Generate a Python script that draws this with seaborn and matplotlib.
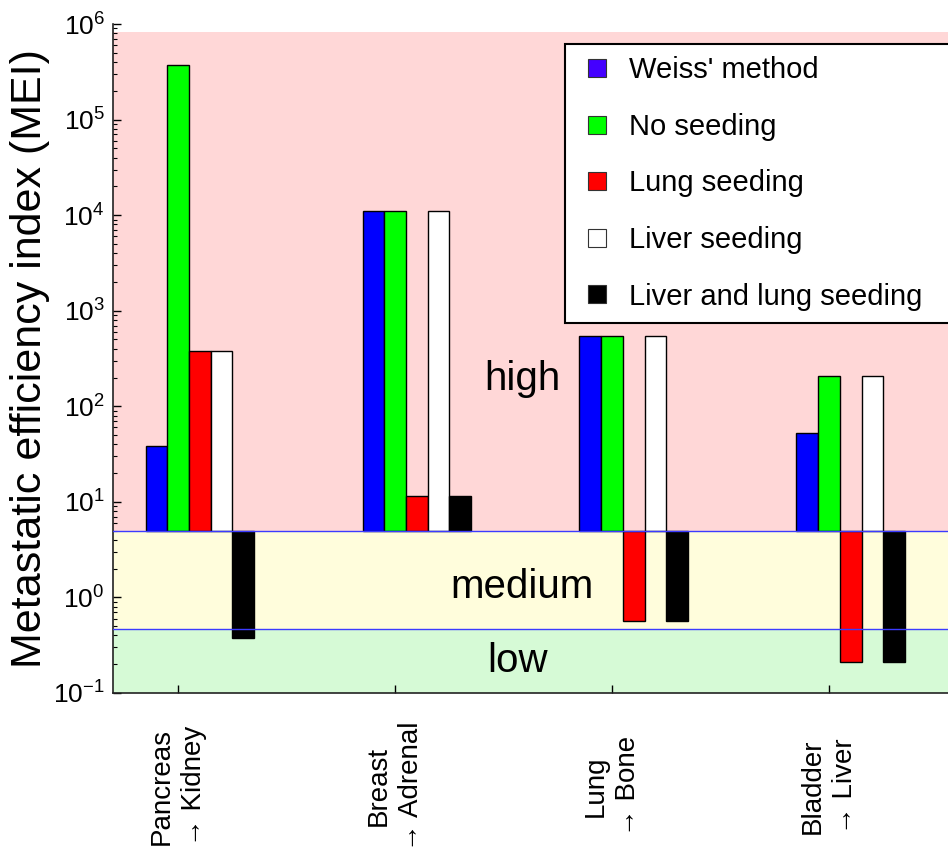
import matplotlib
matplotlib.use("Agg")
import matplotlib.pyplot as plt
from matplotlib.lines import Line2D
import seaborn as sns
import pandas as pd

# ---- data ----
sites = ["Pancreas\n\u2192 Kidney", "Breast\n\u2192 Adrenal", "Lung\n\u2192 Bone", "Bladder\n\u2192 Liver"]
methods = ["Weiss' method", "No seeding", "Lung seeding", "Liver seeding", "Liver and lung seeding"]
weiss = [38, 11000, 550, 53]
no_seeding = [3.7e5, 11000, 550, 207]
lung_seeding = [380, 11.5, 0.57, 0.21]
liver_seeding = [380, 11000, 550, 207]
liver_lung_seeding = [0.38, 11.5, 0.57, 0.21]
series = [weiss, no_seeding, lung_seeding, liver_seeding, liver_lung_seeding]
colors = ["#0000ff", "#00ff00", "#ff0000", "#ffffff", "#000000"]
legend_colors = ["#4400ff", "#00ff00", "#ff0000", "#ffffff", "#000000"]
base = 5.0          # bars start from the high/medium threshold
medium_low = 0.47   # medium/low threshold
band_labels = ["high", "medium", "low"]

rows = []
for m, vals in zip(methods, series):
    for s, v in zip(sites, vals):
        rows.append({"site": s, "method": m, "MEI": v})
df = pd.DataFrame(rows)

sns.set_style("ticks")
plt.rcParams["font.family"] = ["Liberation Sans", "DejaVu Sans"]
plt.rcParams["mathtext.fontset"] = "custom"
plt.rcParams["mathtext.rm"] = "Liberation Sans"
plt.rcParams["mathtext.it"] = "Liberation Sans:italic"
plt.rcParams["mathtext.bf"] = "Liberation Sans:bold"
for k in ["text.color", "axes.labelcolor", "xtick.color", "ytick.color"]:
    plt.rcParams[k] = "black"

W, H = 948, 857
fig = plt.figure(figsize=(W / 100, H / 100), dpi=100)
ax = fig.add_axes([113 / W, (H - 693) / H, (967 - 113) / W, (693 - 24) / H])

sns.barplot(data=df, x="site", y="MEI", hue="method", order=sites, hue_order=methods,
            palette=colors, saturation=1, width=0.5, edgecolor="black", linewidth=1.0,
            errorbar=None, legend=False, ax=ax, zorder=2)

# bars go from the threshold (5) up or down to their value
for cont, vals in zip(ax.containers, series):
    for bar, v in zip(cont, vals):
        bar.set_y(base)
        bar.set_height(v - base)

ax.set_yscale("log")
ax.set_ylim(0.1, 1e6)
ax.set_xlim(-0.4, 3.536)

# background bands
ax.axhspan(base, 8.2e5, color="#ffd7d7", zorder=0, lw=0)
ax.axhspan(medium_low, base, color="#fffddc", zorder=0, lw=0)
ax.axhspan(0.1, medium_low, color="#d6fad6", zorder=0, lw=0)
ax.axhline(base, color="#3b3bff", lw=1.0, zorder=3)
ax.axhline(medium_low, color="#3b3bff", lw=1.0, zorder=3)

ax.text(1.485, 191, band_labels[0], fontsize=29, ha="center", va="center", zorder=4)
ax.text(1.485, 1.28, band_labels[1], fontsize=29, ha="center", va="center", zorder=4)
ax.text(1.465, 0.216, band_labels[2], fontsize=29, ha="center", va="center", zorder=4)

# axes styling
ax.set_xticks([i - 0.1 for i in range(len(sites))])
ax.set_xticklabels(sites, rotation=90, va="center", ha="center",
                   multialignment="center", fontsize=20, linespacing=1.3)
ax.tick_params(axis="x", direction="in", length=6, width=1, pad=67)
ax.tick_params(axis="y", which="major", direction="in", length=6, width=1,
               labelsize=19, pad=6)
ax.tick_params(axis="y", which="minor", direction="in", length=3, width=0.8)
ax.set_xlabel("")
ax.set_ylabel("Metastatic efficiency index (MEI)", fontsize=31)
ax.yaxis.set_label_coords(-0.074, 0.5)
for side in ["top", "right"]:
    ax.spines[side].set_visible(False)
for side in ["left", "bottom"]:
    ax.spines[side].set_linewidth(1.2)
    ax.spines[side].set_color("#222222")

handles = [Line2D([0], [0], marker="s", linestyle="none", markersize=13,
                  markerfacecolor=c, markeredgecolor="#333333", markeredgewidth=0.8)
           for c in legend_colors]
leg = ax.legend(handles, methods, loc="upper left",
                bbox_to_anchor=(565 / W, 0.3, (990 - 565) / W, (1 - 44 / H) - 0.3),
                bbox_transform=fig.transFigure, mode="expand", borderaxespad=0,
                fontsize=21, handlelength=1.34, handletextpad=0.45,
                labelspacing=0.98, borderpad=0.42, fancybox=False,
                framealpha=1, edgecolor="black")
leg.get_frame().set_linewidth(1.5)
leg.set_zorder(10)

fig.savefig("out.png", dpi=100)
